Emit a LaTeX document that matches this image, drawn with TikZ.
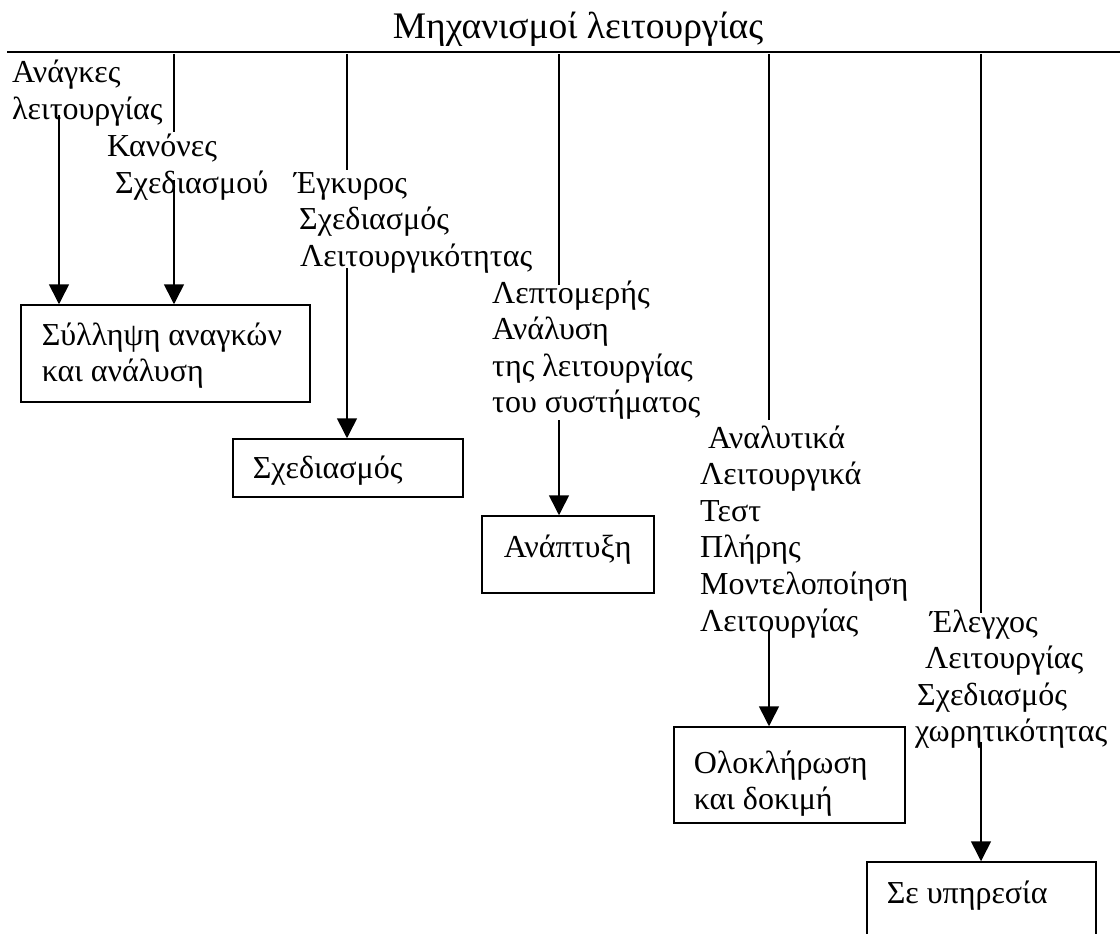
\documentclass[tikz,border=0pt]{standalone}
\usepackage{fontspec}
\setmainfont{Liberation Serif}
\usetikzlibrary{arrows.meta}
\newcommand\lbl[1]{\vtop{\halign{##\hfil\cr#1\crcr}}}
\newcommand\boxtxt[3]{\hbox to #1{\kern#2\lbl{#3}\hfil}}
\begin{document}
\begin{tikzpicture}[x=1pt,y=-1pt,
  bodyfont/.style={font=\fontsize{32pt}{36.6pt}\selectfont},
  lab/.style={bodyfont, inner sep=0pt, anchor=base west},
  stagebox/.style={bodyfont, draw, line width=1.5pt, inner sep=0pt, anchor=base west},
  wire/.style={line width=1.6pt},
  arr/.style={line width=1.6pt, -{Triangle[length=20pt,width=20pt]}},
]
\useasboundingbox (0,0) rectangle (1120,934);
\clip (0,0) rectangle (1120,934);

% title and bar
\node[inner sep=0pt, anchor=base, font=\fontsize{37.5pt}{42pt}\selectfont] (title) at (578,39) {Μηχανισμοί λειτουργίας};
\coordinate (barL) at (7,52);
\coordinate (barR) at (1120,52);
\draw[line width=2pt] (barL) -- (barR);

% labels
\node[lab] (L1) at (12,83) {\lbl{Ανάγκες\cr λειτουργίας}};
\node[lab] (L2) at (107,157) {\lbl{Κανόνες\cr\kern8pt Σχεδιασμού}};
\node[lab] (L3) at (294,193) {\lbl{Έγκυρος\cr\kern5pt Σχεδιασμός\cr\kern6pt Λειτουργικότητας}};
\node[lab] (L4) at (492,303) {\lbl{Λεπτομερής\cr Ανάλυση\cr της λειτουργίας\cr του συστήματος}};
\node[lab] (L5) at (700,448) {\lbl{\kern8pt Αναλυτικά\cr Λειτουργικά\cr Τεστ\cr Πλήρης\cr Μοντελοποίηση\cr Λειτουργίας}};
\node[lab] (L6) at (915,632) {\lbl{\kern15pt Έλεγχος\cr\kern10pt Λειτουργίας\cr\kern2pt Σχεδιασμός\cr χωρητικότητας}};

% stage boxes
\node[stagebox, text height=40pt, text depth=57pt] (B1) at (20,345) {\boxtxt{289pt}{21pt}{Σύλληψη αναγκών\cr και ανάλυση}};
\node[stagebox, text height=39pt, text depth=19pt] (B2) at (232,478) {\boxtxt{230pt}{20pt}{Σχεδιασμός}};
\node[stagebox, text height=41pt, text depth=36pt] (B3) at (481,557) {\boxtxt{172pt}{22pt}{Ανάπτυξη}};
\node[stagebox, text height=46pt, text depth=50pt] (B4) at (673,773) {\boxtxt{231pt}{20pt}{Ολοκλήρωση\cr και δοκιμή}};
\node[stagebox, text height=41pt, text depth=60pt] (B5) at (866,903) {\boxtxt{229pt}{20pt}{Σε υπηρεσία}};

% line ends
\coordinate (t2) at (174,54);  \coordinate (e2) at (174,132);
\coordinate (t3) at (347,54);  \coordinate (e3) at (347,170);
\coordinate (t4) at (559,54);  \coordinate (e4) at (559,285);
\coordinate (t5) at (769,54);  \coordinate (e5) at (769,420);
\coordinate (t6) at (981,54);  \coordinate (e6) at (981,613);
\coordinate (s1) at (59,115);
\coordinate (s2) at (174,180);
\coordinate (s3) at (347,268);
\coordinate (s4) at (559,420);
\coordinate (s5) at (769,630);
\coordinate (s6) at (981,742);

% vertical lines from the bar
\draw[wire] (t2) -- (e2);
\draw[wire] (t3) -- (e3);
\draw[wire] (t4) -- (e4);
\draw[wire] (t5) -- (e5);
\draw[wire] (t6) -- (e6);

% arrows into the boxes
\draw[arr] (s1) -- (s1 |- B1.north);
\draw[arr] (s2) -- (s2 |- B1.north);
\draw[arr] (s3) -- (s3 |- B2.north);
\draw[arr] (s4) -- (s4 |- B3.north);
\draw[arr] (s5) -- (s5 |- B4.north);
\draw[arr] (s6) -- (s6 |- B5.north);
\end{tikzpicture}
\end{document}
